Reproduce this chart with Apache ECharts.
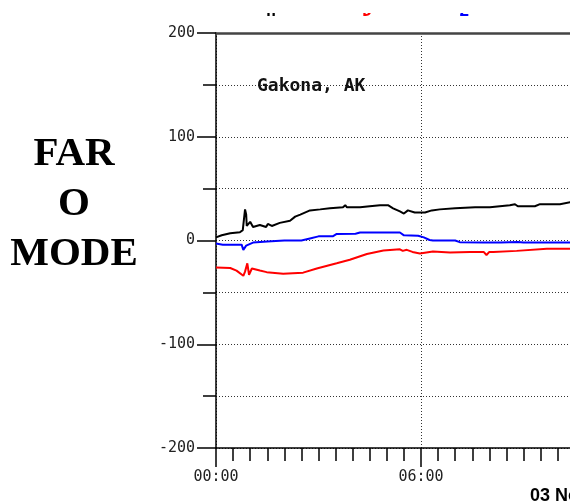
<!DOCTYPE html>
<html>
<head>
<meta charset="utf-8">
<script src="https://cdn.jsdelivr.net/npm/echarts@6/dist/echarts.min.js"></script>
<style>html,body{margin:0;padding:0;background:#fff}#c{width:570px;height:501px}</style>
</head>
<body>
<div id="c"></div>
<script>
// time in minutes since 00:00, value in nT
const hData = [[0,3],[10,5],[25,7],[42,8],[47,10],[51,30],[53,25],[54,14],[60,18],[65,13],[77,15],[88,13],[91,16],[98,14],[112,17],[130,19],[139,23],[148,25],[165,29],[183,30],[200,31],[223,32],[227,34],[230,32],[253,32],[270,33],[288,34],[302,34],[311,31],[323,28],[330,26],[337,29],[349,27],[367,27],[379,29],[393,30],[420,31],[455,32],[481,32],[516,34],[525,35],[530,33],[560,33],[569,35],[604,35],[622,37]];
const dData = [[0,-26],[25,-26.5],[36,-29],[48,-34],[51,-30],[55,-22],[58,-33],[63,-27],[77,-29],[89,-30.5],[118,-32],[135,-31.5],[153,-31],[177,-27],[212,-22],[235,-18.6],[265,-13],[294,-9.6],[323,-8.5],[328,-10],[335,-9],[345,-11],[358,-12.5],[381,-10.5],[411,-11.5],[446,-11],[470,-11],[475,-14],[480,-11],[487,-11],[528,-10],[581,-8],[622,-8]];
const zData = [[0,-3],[12,-4],[45,-4],[48,-9],[50,-10],[53,-5],[65,-2],[90,-1],[120,0],[150,0],[165,2],[180,4],[205,4],[212,6.3],[245,6.5],[253,7.7],[323,7.7],[330,5],[355,4.5],[365,3],[375,0.5],[381,0],[420,0],[428,-1.6],[469,-2],[500,-2],[530,-1.5],[540,-2],[622,-2]];
const seriesNames = ['H','D','Z'];
const seriesColors = ['#000000','#ff0000','#0000ff'];
const stationLabel = 'Gakona, AK';
const sideTitle = 'FAR\nO\nMODE';
const dateLabel = '03 Nov';

function fmtTime(m){const h=Math.floor(m/60),mm=m%60;return String(h).padStart(2,'0')+':'+String(mm).padStart(2,'0');}

const chart = echarts.init(document.getElementById('c'));
const mono = 'DejaVu Sans Mono';
const dotted = {color:'#333', width:1, type:[1,2]};
chart.setOption({
  animation:false,
  backgroundColor:'#fff',
  grid:{left:216, top:33, height:415, width:820, containLabel:false, outerBoundsMode:'none'},
  xAxis:[{
    type:'value', min:0, max:1440, interval:360, position:'bottom',
    axisLine:{onZero:false, lineStyle:{color:'#000', width:1.5}},
    axisTick:{length:19, lineStyle:{color:'#000', width:1.5}},
    minorTick:{show:true, splitNumber:12, length:13, lineStyle:{color:'#000', width:1.5}},
    axisLabel:{formatter:v=>fmtTime(v), fontFamily:mono, fontSize:15, color:'#222', margin:22},
    splitLine:{show:true, lineStyle:dotted}
  },{
    type:'value', min:0, max:1440, position:'top',
    axisLine:{show:true, onZero:false, lineStyle:{color:'#444', width:2.5}},
    axisTick:{show:false}, axisLabel:{show:false}, splitLine:{show:false}
  }],
  yAxis:{
    type:'value', min:-200, max:200, interval:100,
    axisLine:{show:true, onZero:false, lineStyle:{color:'#000', width:1.5}},
    axisTick:{show:true, length:19, lineStyle:{color:'#000', width:1.5}},
    minorTick:{show:true, splitNumber:2, length:13, lineStyle:{color:'#000', width:1.5}},
    axisLabel:{fontFamily:mono, fontSize:15, color:'#222', margin:21},
    splitLine:{show:true, lineStyle:dotted},
    minorSplitLine:{show:true, lineStyle:dotted}
  },
  series:[hData,dData,zData].map((d,i)=>({
    type:'line', name:seriesNames[i], data:d, showSymbol:false, symbol:'none',
    lineStyle:{color:seriesColors[i], width:2}, z:5
  })),
  graphic:[
    {type:'text', x:74, y:204, style:{text:sideTitle, fontFamily:'Liberation Serif', fontWeight:'bold', fontSize:41, lineHeight:50, fill:'#000', align:'center', verticalAlign:'middle'}},
    {type:'text', x:257, y:86, z:10, style:{text:stationLabel, fontFamily:mono, fontWeight:'bold', fontSize:18, fill:'#111', align:'left', verticalAlign:'middle'}},
    {type:'text', x:271, y:20, style:{text:seriesNames[0], fontFamily:mono, fontWeight:'bold', fontSize:16, fill:seriesColors[0], align:'center', verticalAlign:'bottom'}},
    {type:'text', x:367, y:20, style:{text:seriesNames[1], fontFamily:mono, fontWeight:'bold', fontSize:16, fill:seriesColors[1], align:'center', verticalAlign:'bottom'}},
    {type:'text', x:464, y:20, style:{text:seriesNames[2], fontFamily:mono, fontWeight:'bold', fontSize:16, fill:seriesColors[2], align:'center', verticalAlign:'bottom'}},
    {type:'rect', x:240, y:0, z:20, shape:{width:260, height:13}, style:{fill:'#fff'}},
    {type:'text', x:530, y:487, style:{text:dateLabel, fontFamily:'Liberation Sans', fontWeight:'bold', fontSize:18, fill:'#000', align:'left', verticalAlign:'top'}}
  ]
});
</script>
</body>
</html>
